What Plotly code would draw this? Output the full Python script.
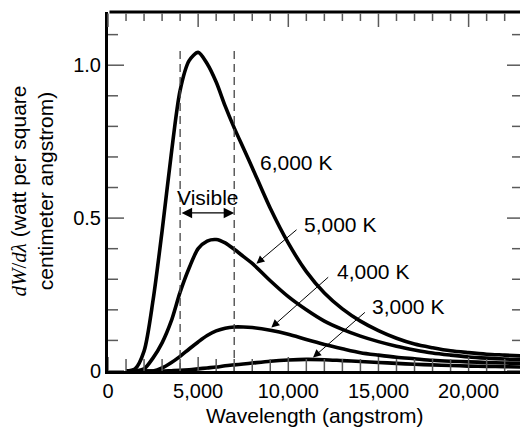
import plotly.graph_objects as go

# Spectral radiance of a blackbody at four temperatures
wavelength = [1000, 1500, 2000, 2500, 3000, 3500, 4000, 4500, 5000, 5500,
              6000, 6500, 7000, 7500, 8000,
              9000, 10000, 11000, 12000, 13000, 14000, 15000, 16000, 17000,
              18000, 19000, 20000, 21000, 22000, 23000]

t6000 = [0.000, 0.007, 0.065, 0.232, 0.458, 0.705, 0.918, 1.015, 1.042, 1.005,
         0.945, 0.866, 0.795, 0.730, 0.665,
         0.532, 0.418, 0.325, 0.255, 0.203, 0.163, 0.132, 0.107, 0.088,
         0.076, 0.066, 0.060, 0.055, 0.052, 0.049]
t5000 = [0.000, 0.000, 0.007, 0.043, 0.092, 0.162, 0.258, 0.337, 0.400, 0.425,
         0.430, 0.419, 0.398, 0.375, 0.352,
         0.295, 0.243, 0.200, 0.163, 0.136, 0.114, 0.096, 0.081, 0.069,
         0.059, 0.052, 0.046, 0.042, 0.039, 0.037]
t4000 = [0.000, 0.000, 0.000, 0.000, 0.010, 0.027, 0.048, 0.072, 0.095, 0.116,
         0.131, 0.140, 0.144, 0.144, 0.142,
         0.133, 0.120, 0.103, 0.087, 0.073, 0.060, 0.052, 0.045, 0.040,
         0.035, 0.032, 0.030, 0.028, 0.026, 0.025]
t3000 = [0.000, 0.000, 0.000, 0.000, 0.000, 0.001, 0.002, 0.004, 0.007, 0.010,
         0.013, 0.017, 0.020, 0.023, 0.026,
         0.032, 0.036, 0.038, 0.037, 0.034, 0.031, 0.028, 0.025, 0.022,
         0.020, 0.018, 0.016, 0.015, 0.014, 0.013]

curves = [("6,000 K", t6000), ("5,000 K", t5000), ("4,000 K", t4000), ("3,000 K", t3000)]

# Visible band edges and the height of the dashed markers
visible_band = [4000, 7000]
dash_top = 1.06
visible_arrow_y = 0.517
visible_label = ("Visible", 5500, 0.569)

# Curve labels: text, left edge x, centre y
labels = [("6,000 K", 8320, 0.681),
          ("5,000 K", 10780, 0.478),
          ("4,000 K", 12570, 0.327),
          ("3,000 K", 14510, 0.212)]
# Pointer arrows: tail (x, y) -> head (x, y)
pointers = [((10540, 0.466), (8230, 0.351)),
            ((12295, 0.311), (9060, 0.142)),
            ((14330, 0.196), (11370, 0.044))]

x_ticks = [0, 5000, 10000, 15000, 20000]
x_ticktext = ["0", "5,000", "10,000", "15,000", "20,000"]
x_minor_step = 1000
y_ticks = [0, 0.5, 1.0]
y_ticktext = ["0", "0.5", "1.0"]
y_minor_step = 0.1

x_range = [0, 22850]
y_range = [0, 1.174]

FONT = "Liberation Sans, Arial, sans-serif"
TICK_COLOR = "#5a5a5a"

W, H = 520, 428
M = dict(l=108, r=0, t=12, b=57)
px_per_x = (W - M["l"] - M["r"]) / (x_range[1] - x_range[0])
px_per_y = (H - M["t"] - M["b"]) / (y_range[1] - y_range[0])

x_minor = [i * x_minor_step for i in range(int(x_range[1] // x_minor_step) + 1)]
y_minor = [round(i * y_minor_step, 1) for i in range(int(y_range[1] / y_minor_step + 1e-9) + 1)]

fig = go.Figure()

for name, vals in curves:
    fig.add_trace(go.Scatter(
        x=wavelength, y=vals, mode="lines", name=name,
        line=dict(color="black", width=3.6, shape="spline", smoothing=0.8),
        showlegend=False, hoverinfo="skip"))

for edge in visible_band:
    fig.add_trace(go.Scatter(
        x=[edge, edge], y=[0, dash_top], mode="lines",
        line=dict(color="#444444", width=1.3, dash="8px,5px"),
        showlegend=False, hoverinfo="skip"))

# Inward tick marks on the bottom, left and right edges (lengths in pixels)
tx, ty = [], []
for v in x_minor:
    bottom_len = (14 if v in x_ticks else 12) / px_per_y
    tx += [v, v, None]
    ty += [0, bottom_len, None]
for v in y_minor:
    major = v in y_ticks
    left_len = (16 if major else 10) / px_per_x
    right_len = (13 if major else 8) / px_per_x
    tx += [x_range[0], x_range[0] + left_len, None,
           x_range[1], x_range[1] - right_len, None]
    ty += [v, v, None, v, v, None]
fig.add_trace(go.Scatter(
    x=tx, y=ty, mode="lines", line=dict(color=TICK_COLOR, width=1.5),
    showlegend=False, hoverinfo="skip"))

annotations = []

# Top edge of the frame and its inward ticks, drawn as headless annotation arrows
annotations.append(dict(
    x=x_range[1], y=y_range[1], ax=x_range[0], ay=y_range[1],
    xref="x", yref="y", axref="x", ayref="y", text="", showarrow=True,
    arrowhead=0, arrowwidth=3, arrowcolor="black"))
for v in x_minor:
    top_len = (15 if v in x_ticks else 9) / px_per_y
    annotations.append(dict(
        x=v, y=y_range[1] - top_len, ax=v, ay=y_range[1],
        xref="x", yref="y", axref="x", ayref="y", text="", showarrow=True,
        arrowhead=0, arrowwidth=1.5, arrowcolor=TICK_COLOR))

annotations.append(dict(
    x=visible_band[1], y=visible_arrow_y, ax=visible_band[0], ay=visible_arrow_y,
    xref="x", yref="y", axref="x", ayref="y", text="", showarrow=True,
    arrowside="end+start", arrowhead=2, arrowsize=1.5, arrowwidth=1.4,
    arrowcolor="black"))
annotations.append(dict(
    x=visible_label[1], y=visible_label[2], xref="x", yref="y",
    text=visible_label[0], showarrow=False,
    font=dict(family=FONT, size=21, color="black")))

for text, lx, ly in labels:
    annotations.append(dict(
        x=lx, y=ly, xref="x", yref="y", text=text, showarrow=False,
        xanchor="left", yanchor="middle",
        font=dict(family=FONT, size=21, color="black")))

for (ax_, ay_), (hx, hy) in pointers:
    annotations.append(dict(
        x=hx, y=hy, ax=ax_, ay=ay_, xref="x", yref="y", axref="x", ayref="y",
        text="", showarrow=True, arrowhead=2, arrowsize=1.6, arrowwidth=1.0,
        arrowcolor="black"))

# axis titles
annotations.append(dict(
    x=0.5, y=0, xref="paper", yref="paper", yanchor="middle", yshift=-44,
    text="Wavelength (angstrom)", showarrow=False,
    font=dict(family=FONT, size=21, color="black")))
annotations.append(dict(
    x=0, y=0.5, xref="paper", yref="paper", xanchor="center", yanchor="middle",
    xshift=-77, textangle=-90, showarrow=False,
    text=("<span style='font-family:Liberation Serif'><i>dW</i>/<i>d\u03bb</i></span>"
          " (watt per square<br>centimeter angstrom)"),
    font=dict(family=FONT, size=21, color="black")))

fig.update_layout(
    width=W, height=H,
    margin=M,
    showlegend=False,
    paper_bgcolor="white", plot_bgcolor="white",
    font=dict(family=FONT, size=20, color="black"),
    annotations=annotations,
    xaxis=dict(
        range=x_range, showgrid=False, zeroline=False,
        showline=True, linecolor="black", linewidth=3, ticks="",
        tickmode="array", tickvals=x_ticks, ticktext=x_ticktext,
        tickfont=dict(family=FONT, size=20, color="black")),
    yaxis=dict(
        range=y_range, showgrid=False, zeroline=False,
        showline=True, linecolor="black", linewidth=3, ticks="",
        tickmode="array", tickvals=y_ticks, ticktext=y_ticktext,
        tickfont=dict(family=FONT, size=20, color="black")),
)

fig.write_html("out.html", config={"displayModeBar": False})
